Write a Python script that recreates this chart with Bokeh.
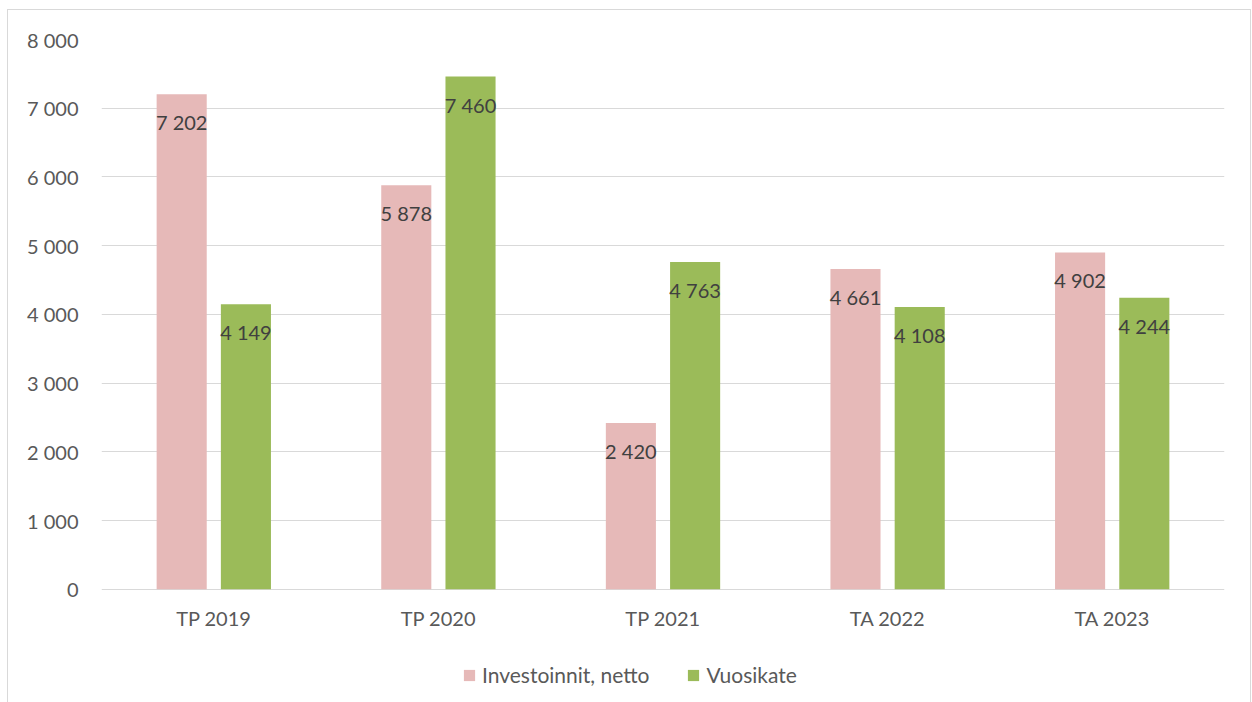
from bokeh.plotting import figure
from bokeh.models import (FactorRange, Range1d, FixedTicker, CustomJSTickFormatter,
                          Legend, LegendItem, ColumnDataSource)
from bokeh.transform import dodge
from bokeh.embed import file_html
from bokeh.resources import INLINE
from bokeh.core.properties import value

categories = ["TP 2019", "TP 2020", "TP 2021", "TA 2022", "TA 2023"]
investoinnit = [7202, 5878, 2420, 4661, 4902]
vuosikate = [4149, 7460, 4763, 4108, 4244]
series_names = ["Investoinnit, netto", "Vuosikate"]
y_ticks = [0, 1000, 2000, 3000, 4000, 5000, 6000, 7000, 8000]

FONT = "Lato"
PINK = "#E6B9B8"
GREEN = "#9BBB59"


def fmt(v):
    return f"{v:,}".replace(",", " ")


src = ColumnDataSource(dict(
    cat=categories,
    inv=investoinnit,
    vuo=vuosikate,
    inv_lbl=[fmt(v) for v in investoinnit],
    vuo_lbl=[fmt(v) for v in vuosikate],
))

# frame: 549 px for 0..8000, extended downward to hold axis labels and legend
px_per_unit = 549 / 8000
frame_h = 663
y_start = 8000 - frame_h / px_per_unit

p = figure(x_range=FactorRange(*categories), y_range=Range1d(y_start, 8000),
           width=1244, height=693, output_backend="svg", toolbar_location=None,
           min_border_left=93, min_border_right=28, min_border_top=29,
           min_border_bottom=0)
p.styles = {"border-style": "solid", "border-color": "#D9D9D9",
            "border-width": "1px 1px 0 1px", "margin-left": "7px",
            "margin-top": "9px"}
p.outline_line_color = None
p.background_fill_color = "white"
p.border_fill_color = "white"

off = 0.143
bw = 0.223
r1 = p.vbar(x=dodge("cat", -off, range=p.x_range), top="inv", width=bw,
            source=src, fill_color=PINK, line_color=None)
r2 = p.vbar(x=dodge("cat", off, range=p.x_range), top="vuo", width=bw,
            source=src, fill_color=GREEN, line_color=None)

for col, lbl, o in (("inv", "inv_lbl", -off), ("vuo", "vuo_lbl", off)):
    p.text(x=dodge("cat", o, range=p.x_range), y=col, text=lbl, source=src,
           text_align="center", text_baseline="middle", y_offset=28,
           text_font=value(FONT), text_font_size="20px", text_color="#404040")

p.xgrid.grid_line_color = None
p.ygrid.grid_line_color = "#D9D9D9"
p.ygrid.grid_line_width = 1

p.yaxis.ticker = FixedTicker(ticks=y_ticks)
p.yaxis.formatter = CustomJSTickFormatter(
    code="return tick.toFixed(0).replace(/\\B(?=(\\d{3})+(?!\\d))/g, ' ');")
for ax in (p.xaxis[0], p.yaxis[0]):
    ax.axis_line_color = None
    ax.major_tick_line_color = None
    ax.minor_tick_line_color = None
    ax.major_label_text_font = FONT
    ax.major_label_text_font_size = "20px"
    ax.major_label_text_color = "#595959"
p.yaxis.major_label_standoff = 17
p.xaxis.fixed_location = 0
p.xaxis.major_label_standoff = 11

legend = Legend(items=[LegendItem(label=series_names[0], renderers=[r1]),
                       LegendItem(label=series_names[1], renderers=[r2])],
                orientation="horizontal", location=(361, 16),
                glyph_width=14, glyph_height=14, label_standoff=6, spacing=37,
                padding=0, margin=0, border_line_color=None,
                background_fill_alpha=0,
                label_text_font=FONT, label_text_font_size="21px",
                label_text_color="#595959")
p.add_layout(legend, "center")

open("out.html", "w").write(file_html(p, INLINE))
